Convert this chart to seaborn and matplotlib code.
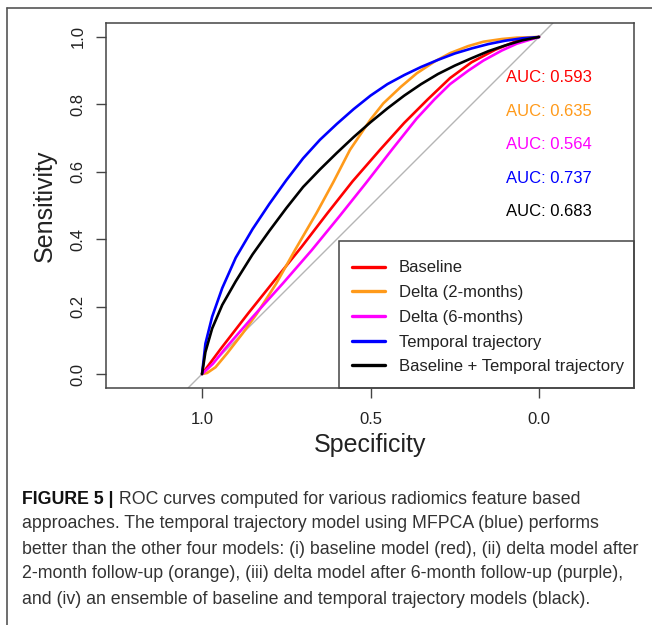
import matplotlib
matplotlib.use("Agg")
import matplotlib.pyplot as plt
import seaborn as sns
import pandas as pd
from matplotlib.lines import Line2D
from matplotlib.patches import Rectangle

# ---------------- data ----------------
model_names = ["Baseline", "Delta (2-months)", "Delta (6-months)",
               "Temporal trajectory", "Baseline + Temporal trajectory"]
model_colors = ["#FF0000", "#FF9A1A", "#FF00FF", "#0000FF", "#000000"]
auc_labels = ["AUC: 0.593", "AUC: 0.635", "AUC: 0.564", "AUC: 0.737", "AUC: 0.683"]

baseline_spec = [1.0, 0.942, 0.863, 0.783, 0.704, 0.628, 0.553, 0.472, 0.400, 0.330, 0.264, 0.200, 0.130, 0.066, 0.0]
baseline_sens = [0.0, 0.078, 0.180, 0.280, 0.378, 0.477, 0.572, 0.665, 0.745, 0.815, 0.878, 0.925, 0.962, 0.988, 1.0]

delta2_spec = [1.0, 0.985, 0.960, 0.925, 0.880, 0.838, 0.780, 0.724, 0.660, 0.610, 0.561, 0.500, 0.462, 0.410, 0.363, 0.310, 0.264, 0.210, 0.165, 0.110, 0.066, 0.0]
delta2_sens = [0.0, 0.003, 0.020, 0.062, 0.120, 0.178, 0.268, 0.368, 0.478, 0.570, 0.665, 0.755, 0.803, 0.852, 0.892, 0.927, 0.952, 0.973, 0.986, 0.994, 0.998, 1.0]

delta6_spec = [1.0, 0.968, 0.935, 0.849, 0.760, 0.674, 0.593, 0.514, 0.437, 0.363, 0.310, 0.264, 0.210, 0.165, 0.110, 0.066, 0.0]
delta6_sens = [0.0, 0.030, 0.071, 0.170, 0.269, 0.368, 0.467, 0.566, 0.665, 0.758, 0.815, 0.860, 0.900, 0.930, 0.960, 0.980, 1.0]

temporal_spec = [1.0, 0.990, 0.970, 0.940, 0.900, 0.850, 0.800, 0.750, 0.700, 0.650, 0.600, 0.550, 0.500, 0.450, 0.400, 0.350, 0.300, 0.250, 0.200, 0.150, 0.100, 0.050, 0.0]
temporal_sens = [0.0, 0.090, 0.170, 0.255, 0.345, 0.430, 0.505, 0.575, 0.640, 0.695, 0.742, 0.786, 0.826, 0.860, 0.887, 0.911, 0.932, 0.951, 0.966, 0.979, 0.989, 0.996, 1.0]

ensemble_spec = [1.0, 0.990, 0.970, 0.940, 0.900, 0.850, 0.800, 0.750, 0.700, 0.650, 0.600, 0.550, 0.500, 0.450, 0.400, 0.350, 0.300, 0.250, 0.200, 0.150, 0.100, 0.050, 0.0]
ensemble_sens = [0.0, 0.065, 0.135, 0.205, 0.275, 0.355, 0.425, 0.492, 0.555, 0.607, 0.656, 0.703, 0.747, 0.788, 0.826, 0.860, 0.890, 0.915, 0.937, 0.958, 0.975, 0.990, 1.0]

x_ticks = [1.0, 0.5, 0.0]
x_tick_labels = ["1.0", "0.5", "0.0"]
y_ticks = [0.0, 0.2, 0.4, 0.6, 0.8, 1.0]
y_tick_labels = ["0.0", "0.2", "0.4", "0.6", "0.8", "1.0"]

caption_bold = "FIGURE 5 |"
caption_lines = [
    " ROC curves computed for various radiomics feature based",
    "approaches. The temporal trajectory model using MFPCA (blue) performs",
    "better than the other four models: (i) baseline model (red), (ii) delta model after",
    "2-month follow-up (orange), (iii) delta model after 6-month follow-up (purple),",
    "and (iv) an ensemble of baseline and temporal trajectory models (black).",
]

# ---------------- build table ----------------
frames = []
for name, sp, se in zip(model_names,
                        [baseline_spec, delta2_spec, delta6_spec, temporal_spec, ensemble_spec],
                        [baseline_sens, delta2_sens, delta6_sens, temporal_sens, ensemble_sens]):
    frames.append(pd.DataFrame({"Specificity": sp, "Sensitivity": se, "model": name}))
df = pd.concat(frames, ignore_index=True)

# ---------------- styling ----------------
sns.set_theme(style="white")
plt.rcParams["font.family"] = ["Liberation Sans", "DejaVu Sans"]

W, H = 652, 625
fig = plt.figure(figsize=(W / 100, H / 100), dpi=100)
fig.patch.set_facecolor("white")

AX_L, AX_R, AX_T, AX_B = 106, 634, 23, 388
ax = fig.add_axes([AX_L / W, 1 - AX_B / H, (AX_R - AX_L) / W, (AX_B - AX_T) / H])
ax.set_facecolor("white")

# chance diagonal
ax.axline((1.0, 0.0), (0.0, 1.0), color="#b5b5b5", lw=1.0, zorder=1)

sns.lineplot(data=df, x="Specificity", y="Sensitivity", hue="model",
             hue_order=model_names, palette=dict(zip(model_names, model_colors)),
             sort=False, estimator=None, linewidth=1.9, legend=False, ax=ax, zorder=2)

ax.set_xlim(1.285, -0.282)
ax.set_ylim(-0.0415, 1.0415)

ax.set_xticks(x_ticks)
ax.set_xticklabels(x_tick_labels)
ax.set_yticks(y_ticks)
ax.set_yticklabels(y_tick_labels, rotation=90, va="center")
ax.tick_params(axis="both", direction="out", length=7.5, width=1.0, color="#444444",
               labelsize=12, labelcolor="#222222", left=True, bottom=True)
ax.tick_params(axis="x", pad=10)
ax.tick_params(axis="y", pad=7)

for s in ax.spines.values():
    s.set_visible(True)
    s.set_color("#444444")
    s.set_linewidth(1.1)
    s.set_zorder(6)

ax.set_xlabel("Specificity", fontsize=18, color="#222222", va="center")
ax.xaxis.set_label_coords(0.5, (AX_B - 445) / (AX_B - AX_T))
ax.set_ylabel("Sensitivity", fontsize=18, color="#222222", va="center")
ax.yaxis.set_label_coords((45 - AX_L) / (AX_R - AX_L), 0.5)

# AUC annotations
auc_y = [0.881, 0.780, 0.680, 0.579, 0.481]
for lab, col, yy in zip(auc_labels, model_colors, auc_y):
    ax.text(0.098, yy, lab, color=col, fontsize=12, ha="left", va="center")

# legend box (opaque, anchored to the lower-right corner of the axes)
axw, axh = AX_R - AX_L, AX_B - AX_T
box_l, box_t = 339, 241
ax.add_patch(Rectangle(((box_l - AX_L) / axw, 0), 1 - (box_l - AX_L) / axw,
                       (AX_B - box_t) / axh, transform=ax.transAxes,
                       facecolor="white", edgecolor="#444444", lw=1.1, zorder=3,
                       clip_on=False))
handles = [Line2D([], [], color=c, lw=2.4) for c in model_colors]
leg = ax.legend(handles, model_names, loc="upper left",
                bbox_to_anchor=((352 - AX_L) / axw, (AX_B - 260.5) / axh),
                borderaxespad=0, borderpad=0, frameon=False, fontsize=12,
                handlelength=1.98, handletextpad=0.84, labelspacing=0.58)
leg.set_zorder(4)
for t in leg.get_texts():
    t.set_color("#222222")

# outer figure frame (left and top)
fig.add_artist(Line2D([7 / W, 7 / W], [0, 1 - 8 / H], transform=fig.transFigure,
                      color="#555555", lw=1.2))
fig.add_artist(Line2D([7 / W, 1], [1 - 8 / H, 1 - 8 / H], transform=fig.transFigure,
                      color="#555555", lw=1.2))

# caption
cap_size = 12.8
cap_y = [499, 524, 549, 574, 599]
t0 = fig.text(22 / W, 1 - cap_y[0] / H, caption_bold, fontsize=cap_size, fontweight="bold",
              color="#111111", ha="left", va="center")
fig.canvas.draw()
bb = t0.get_window_extent()
fig.text(bb.x1 / W, 1 - cap_y[0] / H, caption_lines[0], fontsize=cap_size,
         color="#333333", ha="left", va="center")
for line, yy in zip(caption_lines[1:], cap_y[1:]):
    fig.text(22 / W, 1 - yy / H, line, fontsize=cap_size, color="#333333",
             ha="left", va="center")

fig.savefig("out.png", dpi=100, facecolor="white")
